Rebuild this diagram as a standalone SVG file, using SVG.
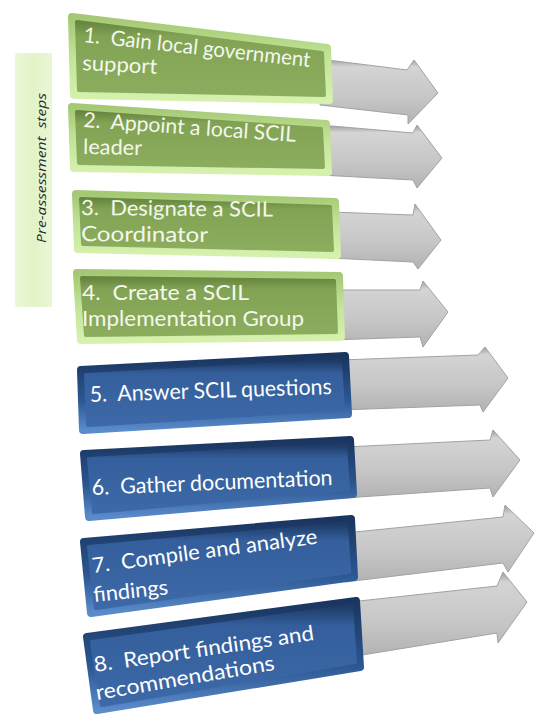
<svg xmlns="http://www.w3.org/2000/svg" width="541" height="716" viewBox="0 0 541 716">
<defs>
<linearGradient id="gOut" x1="0" y1="0" x2="0" y2="1"><stop offset="0" stop-color="#a4c874"/><stop offset="0.5" stop-color="#c2e498"/><stop offset="1" stop-color="#d6f1ae"/></linearGradient>
<linearGradient id="gIn" x1="0" y1="0" x2="0" y2="1"><stop offset="0" stop-color="#66853f"/><stop offset="0.2" stop-color="#82a354"/><stop offset="1" stop-color="#8cad5e"/></linearGradient>
<linearGradient id="bOut" x1="0" y1="0" x2="0" y2="1"><stop offset="0" stop-color="#1a355f"/><stop offset="0.6" stop-color="#2c5792"/><stop offset="1" stop-color="#5a8bcb"/></linearGradient>
<linearGradient id="bIn" x1="0" y1="0" x2="0" y2="1"><stop offset="0" stop-color="#1e3a66"/><stop offset="0.2" stop-color="#345f9c"/><stop offset="1" stop-color="#3d69a8"/></linearGradient>
<linearGradient id="aG" x1="0" y1="0" x2="0" y2="1"><stop offset="0" stop-color="#9c9c9c"/><stop offset="0.12" stop-color="#d4d4d4"/><stop offset="0.6" stop-color="#c6c6c6"/><stop offset="1" stop-color="#b2b2b2"/></linearGradient>
<linearGradient id="bar" x1="0" y1="0" x2="1" y2="0"><stop offset="0" stop-color="#eaf7d6"/><stop offset="0.5" stop-color="#e2f3c8"/><stop offset="1" stop-color="#eaf7d6"/></linearGradient>
</defs>
<style>
.arrow{fill:url(#aG);stroke:#a2a2a2;stroke-width:1;stroke-linejoin:miter}
.go{fill:url(#gOut);stroke:url(#gOut);stroke-width:8;stroke-linejoin:round}
.gi{fill:url(#gIn);stroke:url(#gIn);stroke-width:4;stroke-linejoin:round}
.bo{fill:url(#bOut);stroke:url(#bOut);stroke-width:8;stroke-linejoin:round}
.bi{fill:url(#bIn);stroke:url(#bIn);stroke-width:4;stroke-linejoin:round}
.t{font-family:Lato,"Open Sans","Liberation Sans",sans-serif;font-size:21px;white-space:pre}
.tg{fill:#f3f8ec}
.tb{fill:#ffffff}
.side{font-family:"Open Sans","Liberation Sans",sans-serif;font-style:italic;font-size:12.5px;fill:#2a2a2a;white-space:pre}
</style>
<rect width="541" height="716" fill="#ffffff"/>
<g id="pre-assessment">
<rect x="15" y="53" width="37" height="254" rx="2" fill="url(#bar)"/>
<text class="side" transform="translate(46,168) rotate(-90)" text-anchor="middle" textLength="150" lengthAdjust="spacingAndGlyphs">Pre-assessment  steps</text>
</g>
<g id="connectors">
<polygon class="arrow" points="320,59 407,70 414,60 438,93 408,124 408,115 320,105"/>
<polygon class="arrow" points="320,125 413,133 417,125 442,158 417,188 413,180 320,175"/>
<polygon class="arrow" points="330,212 413,215 415,204 441,240 418,269 413,262 330,258"/>
<polygon class="arrow" points="330,290 420,290 423,281 448,312 423,347 420,337 330,340"/>
<polygon class="arrow" points="340,360 478,355 485,347 508,378 483,412 480,405 340,410"/>
<polygon class="arrow" points="345,447 490,440 493,430 520,460 493,497 490,488 345,498"/>
<polygon class="arrow" points="345,533 503,517 505,505 534,533 508,572 503,563 345,582"/>
<polygon class="arrow" points="350,602 497,586 503,572 527,602 498,643 497,633 350,657"/>
</g>
<g id="step1">
<polygon class="go" points="72,17 327,48 329,100 74,95"/>
<polygon class="gi" points="77,22 322,53 324,95 79,90"/>
<text class="t tg" transform="translate(83,42) rotate(6.3)" textLength="228" lengthAdjust="spacingAndGlyphs">1.  Gain local government</text>
<text class="t tg" transform="translate(82,70) rotate(3)" textLength="75" lengthAdjust="spacingAndGlyphs">support</text>
</g>
<g id="step2">
<polygon class="go" points="72,107 326,124 328,172 74,168"/>
<polygon class="gi" points="77,112 321,129 323,167 79,163"/>
<text class="t tg" transform="translate(83,127) rotate(4)" textLength="213" lengthAdjust="spacingAndGlyphs">2.  Appoint a local SCIL</text>
<text class="t tg" transform="translate(83,154) rotate(1)" textLength="59" lengthAdjust="spacingAndGlyphs">leader</text>
</g>
<g id="step3">
<polygon class="go" points="76,194 335,202 337,255 78,249"/>
<polygon class="gi" points="81,199 330,207 332,250 83,244"/>
<text class="t tg" transform="translate(81,215) rotate(0.5)" textLength="192" lengthAdjust="spacingAndGlyphs">3.  Designate a SCIL</text>
<text class="t tg" transform="translate(81,241) rotate(0.5)" textLength="127" lengthAdjust="spacingAndGlyphs">Coordinator</text>
</g>
<g id="step4">
<polygon class="go" points="77,273 339,276 341,337 81,340"/>
<polygon class="gi" points="82,278 334,281 336,332 86,335"/>
<text class="t tg" transform="translate(82,300)" textLength="167" lengthAdjust="spacingAndGlyphs">4.  Create a SCIL</text>
<text class="t tg" transform="translate(82,326)" textLength="222" lengthAdjust="spacingAndGlyphs">Implementation Group</text>
</g>
<g id="step5">
<polygon class="bo" points="81,370 345,356 348,414 83,430"/>
<polygon class="bi" points="86,375 340,361 343,409 88,425"/>
<text class="t tb" style="font-size:22px" transform="translate(90,402) rotate(-1.9)" textLength="242" lengthAdjust="spacingAndGlyphs">5.  Answer SCIL questions</text>
</g>
<g id="step6">
<polygon class="bo" points="84,454 350,440 353,494 89,517"/>
<polygon class="bi" points="89,459 345,445 348,489 94,512"/>
<text class="t tb" style="font-size:22px" transform="translate(92,495) rotate(-2.4)" textLength="241" lengthAdjust="spacingAndGlyphs">6.  Gather documentation</text>
</g>
<g id="step7">
<polygon class="bo" points="84,542 351,519 354,577 91,613"/>
<polygon class="bi" points="89,547 346,524 349,572 96,608"/>
<text class="t tb" transform="translate(93,573) rotate(-7.5)" textLength="227" lengthAdjust="spacingAndGlyphs">7.  Compile and analyze</text>
<text class="t tb" transform="translate(94,602) rotate(-6)" textLength="75" lengthAdjust="spacingAndGlyphs">findings</text>
</g>
<g id="step8">
<polygon class="bo" points="87,637 356,601 360,667 97,710"/>
<polygon class="bi" points="92,642 351,606 355,662 102,705"/>
<text class="t tb" transform="translate(95,672) rotate(-8.3)" textLength="222" lengthAdjust="spacingAndGlyphs">8.  Report findings and</text>
<text class="t tb" transform="translate(97,700) rotate(-9.6)" textLength="181" lengthAdjust="spacingAndGlyphs">recommendations</text>
</g>
</svg>
